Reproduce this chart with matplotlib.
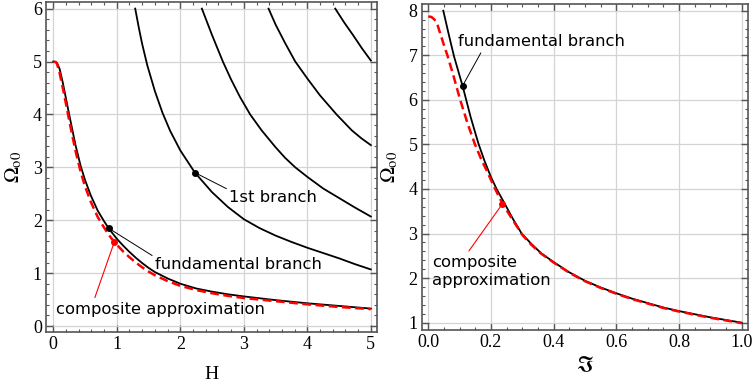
import numpy as np
import matplotlib
matplotlib.use("Agg")
import matplotlib.pyplot as plt
from matplotlib.ticker import MultipleLocator

plt.rcParams['font.family'] = ['Liberation Serif', 'DejaVu Serif']
plt.rcParams['mathtext.fontset'] = 'stix'

# ---- left panel data ----
h_fund = [0, 0.04, 0.06, 0.1, 0.15, 0.2, 0.25, 0.3, 0.35, 0.43, 0.5, 0.59,
          0.7, 0.79, 0.87, 1.0, 1.1, 1.2, 1.3, 1.4, 1.5, 1.6, 1.8, 2.0, 2.25,
          2.5, 2.75, 3.0, 3.5, 4.0, 4.5, 5.0]
om_fund = [5.0, 4.99, 4.97, 4.86, 4.6, 4.3, 4.0, 3.71, 3.42, 3.03, 2.76, 2.47,
           2.18, 2.0, 1.85, 1.65, 1.52, 1.4, 1.29, 1.19, 1.1, 1.02, 0.9,
           0.8, 0.71, 0.65, 0.6, 0.56, 0.49, 0.43, 0.38, 0.33]
h_comp = [0, 0.04, 0.06, 0.1, 0.15, 0.2, 0.25, 0.3, 0.35, 0.43, 0.5, 0.59,
          0.7, 0.79, 0.87, 0.96, 1.1, 1.2, 1.3, 1.4, 1.5, 1.6, 1.8, 2.0, 2.25,
          2.5, 2.75, 3.0, 3.5, 4.0, 4.5, 5.0]
om_comp = [5.0, 4.99, 4.95, 4.78, 4.5, 4.2, 3.89, 3.6, 3.31, 2.92, 2.64, 2.35,
           2.06, 1.88, 1.73, 1.59, 1.41, 1.3, 1.2, 1.11, 1.03, 0.96, 0.85,
           0.76, 0.68, 0.62, 0.57, 0.53, 0.47, 0.41, 0.36, 0.32]

h_b1 = [1.29, 1.35, 1.4, 1.48, 1.6, 1.72, 1.84, 2.0, 2.23, 2.5, 2.75, 3.0,
        3.25, 3.5, 3.75, 4.0, 4.25, 4.5, 4.75, 5.0]
om_b1 = [6.0, 5.62, 5.33, 4.93, 4.44, 4.03, 3.69, 3.32, 2.9, 2.53, 2.25, 2.02,
         1.85, 1.71, 1.59, 1.48, 1.38, 1.28, 1.17, 1.07]
h_b2 = [2.34, 2.5, 2.67, 2.8, 2.94, 3.1, 3.28, 3.5, 3.65, 3.81, 4.0, 4.25,
        4.5, 4.75, 5.0]
om_b2 = [6.0, 5.5, 5.0, 4.66, 4.33, 4.0, 3.7, 3.38, 3.18, 3.0, 2.82, 2.6,
         2.42, 2.24, 2.07]
h_b3 = [3.39, 3.5, 3.65, 3.81, 4.0, 4.2, 4.46, 4.7, 4.85, 5.0]
om_b3 = [6.0, 5.7, 5.35, 5.0, 4.68, 4.36, 4.0, 3.7, 3.55, 3.42]
h_b4 = [4.44, 4.58, 4.72, 4.86, 5.0]
om_b4 = [6.0, 5.74, 5.5, 5.25, 5.02]

fund_dot_l = (0.87, 1.85)
b1_dot = (2.23, 2.90)
comp_dot_l = (0.96, 1.585)

# ---- right panel data ----
s_fund = [0.048, 0.065, 0.082, 0.11, 0.135, 0.16, 0.18, 0.2, 0.218, 0.24,
          0.27, 0.298, 0.33, 0.36, 0.4, 0.45, 0.5, 0.55, 0.6, 0.65, 0.7,
          0.75, 0.8, 0.85, 0.9, 0.95, 1.0]
om_fund_r = [8.0, 7.48, 6.98, 6.3, 5.62, 5.02, 4.62, 4.27, 4.0, 3.72,
             3.33, 3.0, 2.76, 2.56, 2.36, 2.13, 1.94, 1.79, 1.66, 1.54, 1.44,
             1.34, 1.26, 1.19, 1.12, 1.06, 1.0]
s_comp = [0.0, 0.01, 0.02, 0.03, 0.04, 0.05, 0.061, 0.08, 0.101, 0.125,
          0.149, 0.17, 0.186, 0.21, 0.236, 0.27, 0.3, 0.33, 0.36, 0.4, 0.45,
          0.5, 0.55, 0.6, 0.65, 0.7, 0.75, 0.8, 0.85, 0.9, 0.95, 1.0]
om_comp_r = [7.87, 7.86, 7.8, 7.67, 7.45, 7.23, 7.0, 6.55, 6.02, 5.48,
             5.0, 4.65, 4.42, 4.05, 3.68, 3.3, 2.97, 2.74, 2.55, 2.35, 2.12,
             1.93, 1.78, 1.65, 1.53, 1.43, 1.33, 1.25, 1.18, 1.11, 1.05, 0.99]

fund_dot_r = (0.11, 6.32)
comp_dot_r = (0.236, 3.66)

fig = plt.figure(figsize=(7.55, 3.89), dpi=100)
ax1 = fig.add_axes([0.0609, 0.1465, 0.4384, 0.8483])
ax2 = fig.add_axes([0.5585, 0.1517, 0.4318, 0.838])

frame = '#555555'


def style(ax):
    ax.grid(True, which='major', color='#d4d4d4', lw=0.9)
    ax.set_axisbelow(True)
    for s in ax.spines.values():
        s.set_color(frame)
        s.set_linewidth(1.2)
    ax.tick_params(which='both', direction='in', top=True, right=True,
                   color=frame, labelsize=13, pad=3)
    ax.tick_params(which='major', length=5, width=1.0)
    ax.tick_params(which='minor', length=2.5, width=0.8)


black_kw = dict(color='black', lw=1.3, solid_joinstyle='round')
red_kw = dict(color='red', lw=1.8, ls=(0, (3.5, 1.8)))
txt_kw = dict(family='DejaVu Sans', fontsize=11.8)

# left
for hh, oo in [(h_b1, om_b1), (h_b2, om_b2), (h_b3, om_b3), (h_b4, om_b4)]:
    ax1.plot(hh, oo, **black_kw)
ax1.plot(h_fund, om_fund, **black_kw)
ax1.plot(h_comp, om_comp, **red_kw)
ax1.plot(*b1_dot, 'o', color='black', ms=4)
ax1.plot(*fund_dot_l, 'o', color='black', ms=4)
ax1.plot(*comp_dot_l, 'o', color='red', ms=4)

ax1.annotate('1st branch', xy=b1_dot, xytext=(2.77, 2.57), ha='left', va='top',
             arrowprops=dict(arrowstyle='-', color='black', lw=0.7,
                             shrinkA=0, shrinkB=0, relpos=(0, 1)), **txt_kw)
ax1.annotate('fundamental branch', xy=fund_dot_l, xytext=(1.60, 1.30),
             ha='left', va='top',
             arrowprops=dict(arrowstyle='-', color='black', lw=0.7,
                             shrinkA=0, shrinkB=0, relpos=(0, 1)), **txt_kw)
ax1.annotate('composite approximation', xy=comp_dot_l, xytext=(0.04, 0.46),
             ha='left', va='top',
             arrowprops=dict(arrowstyle='-', color='red', lw=0.8,
                             shrinkA=1, shrinkB=0, relpos=(0.18, 1)), **txt_kw)

ax1.set_xlim(-0.115, 5.097)
ax1.set_ylim(-0.113, 6.125)
ax1.xaxis.set_major_locator(MultipleLocator(1))
ax1.xaxis.set_minor_locator(MultipleLocator(0.2))
ax1.yaxis.set_major_locator(MultipleLocator(1))
ax1.yaxis.set_minor_locator(MultipleLocator(0.2))
style(ax1)
ax1.set_xlabel('H', fontsize=14, labelpad=9)
ax1.set_ylabel(r'$\Omega_{\mathrm{o0}}$', fontsize=15, labelpad=6)

# right
ax2.plot(s_fund, om_fund_r, **black_kw)
ax2.plot(s_comp, om_comp_r, **red_kw)
ax2.plot(*fund_dot_r, 'o', color='black', ms=4)
ax2.plot(*comp_dot_r, 'o', color='red', ms=4)

ax2.annotate('fundamental branch', xy=fund_dot_r, xytext=(0.095, 7.48),
             ha='left', va='top',
             arrowprops=dict(arrowstyle='-', color='black', lw=0.7,
                             shrinkA=1, shrinkB=0, relpos=(0.15, 0)), **txt_kw)
ax2.annotate('composite\napproximation', xy=comp_dot_r, xytext=(0.011, 2.52),
             ha='left', va='top', linespacing=1.25,
             arrowprops=dict(arrowstyle='-', color='red', lw=0.8,
                             shrinkA=1, shrinkB=0, relpos=(0.29, 1)), **txt_kw)

ax2.set_xlim(-0.021, 1.019)
ax2.set_ylim(0.836, 8.15)
ax2.xaxis.set_major_locator(MultipleLocator(0.2))
ax2.xaxis.set_minor_locator(MultipleLocator(0.05))
ax2.yaxis.set_major_locator(MultipleLocator(1))
ax2.yaxis.set_minor_locator(MultipleLocator(0.2))
ax2.xaxis.set_major_formatter(plt.FuncFormatter(lambda v, p: f'{v:.1f}'))
style(ax2)
ax2.set_xlabel(r'$\Im$', fontsize=16, labelpad=4)
ax2.set_ylabel(r'$\Omega_{\mathrm{o0}}$', fontsize=15, labelpad=6)

fig.savefig('out.png', dpi=100)
